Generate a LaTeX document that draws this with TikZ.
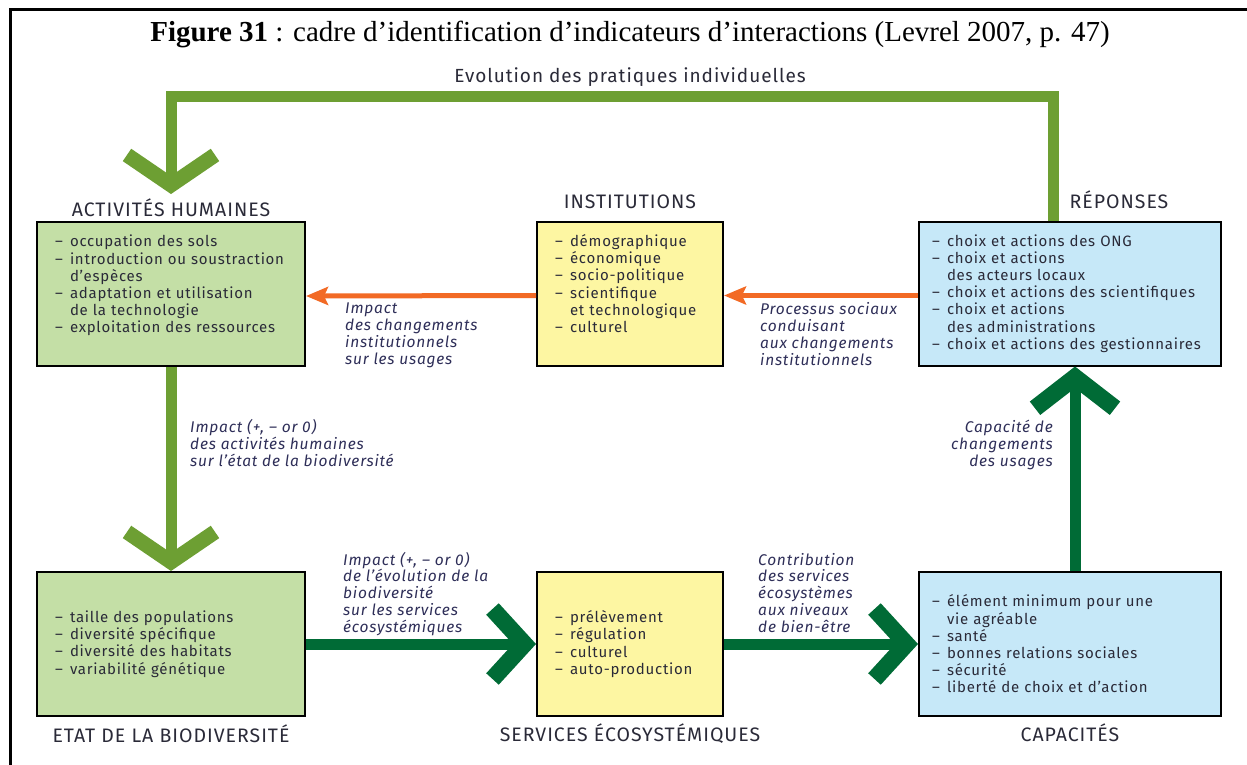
\documentclass[tikz,border=0pt]{standalone}
\usepackage{fontspec}
\setmainfont{Liberation Serif}
\setsansfont{Fira Sans}[LetterSpace=5]
\usepackage{xcolor}
\usepackage{tikz}
\usetikzlibrary{positioning,arrows.meta}
\definecolor{textmain}{HTML}{2A2A38}
\definecolor{textlabel}{HTML}{2E2E58}
\definecolor{fillgreen}{HTML}{C4DFA6}
\definecolor{fillyellow}{HTML}{FDF6A2}
\definecolor{fillblue}{HTML}{C6E8F8}
\definecolor{arrowolive}{HTML}{6D9F33}
\definecolor{arrowgreen}{HTML}{006B36}
\definecolor{arroworange}{HTML}{F26A25}
\newcommand{\li}{\makebox[15pt][l]{--}}
\newcommand{\lc}{\hspace*{15pt}}
\newcommand{\lift}{\rule[-20pt]{0pt}{20pt}}

\begin{document}
\begin{tikzpicture}[x=1pt, y=-1pt,
  box/.style={draw=black, line width=2pt, align=left, text=textmain, inner ysep=0pt, minimum height=144pt, font=\sffamily\fontsize{15}{17.2}\selectfont},
  widebox/.style={minimum width=268pt, text width=232pt, inner xsep=18pt},
  midbox/.style={minimum width=186pt, text width=150pt, inner xsep=18pt},
  bigbox/.style={minimum width=302pt, text width=276pt, inner xsep=13pt},
  boxtitle/.style={font=\sffamily\fontsize{19.5}{21}\selectfont, text=textmain, inner sep=0pt, anchor=base},
  flowlabel/.style={font=\sffamily\itshape\fontsize{15.5}{16.7}\selectfont, text=textlabel, inner sep=0pt, align=left},
  oliveflow/.style={arrowolive, line width=11pt, line join=miter, -{Straight Barb[sharp, length=30pt, width=88pt, line width=15pt]}},
  darkflow/.style={arrowgreen, line width=11pt, -{Straight Barb[sharp, length=32pt, width=70pt, line width=17pt]}},
  darkflowup/.style={darkflow, -{Straight Barb[sharp, length=31pt, width=80pt, line width=17pt]}},
  orangeflow/.style={arroworange, line width=5pt, -{Stealth[length=22pt, width=18pt, inset=4pt]}},
]
\useasboundingbox (0,0) rectangle (1247,765);

% Frame and caption
\draw[line width=2.7pt] (10.5,765) -- (10.5,9.3) -- (1247,9.3);
\node[font=\fontsize{29}{31}\selectfont, anchor=base] (caption) at (630,42) {\textbf{Figure 31} : cadre d'identification d'indicateurs d'interactions (Levrel 2007, p. 47)};

% Boxes
\node[box, widebox, fill=fillgreen] (act) at (171,294) {\li occupation des sols\\ \li introduction ou soustraction\\ \lc d'espèces\\ \li adaptation et utilisation\\ \lc de la technologie\\ \li exploitation des ressources\lift};
\node[box, midbox, fill=fillyellow] (inst) at (630,293.5) {\li démographique\\ \li économique\\ \li socio-politique\\ \li scientifique\\ \lc et technologique\\ \li culturel\lift};
\node[box, bigbox, fill=fillblue] (rep) at (1070,293.5) {\li choix et actions des ONG\\ \li choix et actions\\ \lc des acteurs locaux\\ \li choix et actions des scientifiques\\ \li choix et actions\\ \lc des administrations\\ \li choix et actions des gestionnaires};
\node[box, widebox, fill=fillgreen] (etat) at (171,644) {\li taille des populations\\ \li diversité spécifique\\ \li diversité des habitats\\ \li variabilité génétique};
\node[box, midbox, fill=fillyellow] (serv) at (630,644) {\li prélèvement\\ \li régulation\\ \li culturel\\ \li auto-production};
\node[box, bigbox, fill=fillblue] (capa) at (1070,644) {\li élément minimum pour une\\ \lc vie agréable\\ \li santé\\ \li bonnes relations sociales\\ \li sécurité\\ \li liberté de choix et d'action};

% Box titles
\node[boxtitle] (acttitle) at ([yshift=5pt]act.north) {ACTIVITÉS HUMAINES};
\node[boxtitle] (insttitle) at ([yshift=12pt]inst.north) {INSTITUTIONS};
\node[boxtitle] (reptitle) at ([xshift=49pt, yshift=12pt]rep.north) {RÉPONSES};
\node[boxtitle] (etattitle) at ([yshift=-25pt]etat.south) {ETAT DE LA BIODIVERSITÉ};
\node[boxtitle] (servtitle) at ([yshift=-24pt]serv.south) {SERVICES ÉCOSYSTÉMIQUES};
\node[boxtitle] (capatitle) at ([yshift=-24pt]capa.south) {CAPACITÉS};

% Arrows
\draw[oliveflow] ([xshift=-17pt]rep.north) -- ++(0,-124) -| ([yshift=4pt]acttitle.north);
\draw[oliveflow] (act.south) -- (etat.north);
\draw[darkflow] (etat.east) -- (serv.west);
\draw[darkflow] (serv.east) -- (capa.west);
\draw[darkflowup] ([xshift=5pt]capa.north) -- ([xshift=5pt]rep.south);
\draw[orangeflow] ([yshift=-2pt]rep.west) -- ([yshift=-2pt]inst.east);
\draw[orangeflow] ([yshift=-2pt]inst.west) -- ([yshift=-2pt]act.east);

% Arrow labels (base = last line)
\node[font=\sffamily\fontsize{19}{21}\selectfont, text=textmain, anchor=base] (evol) at (630,83) {Evolution des pratiques individuelles};
\node[flowlabel, anchor=base west] (chglabel) at (345,364) {Impact\\des changements\\institutionnels\\sur les usages};
\node[flowlabel, anchor=base west] (proclabel) at (760,365) {Processus sociaux\\conduisant\\aux changements\\institutionnels};
\node[flowlabel, anchor=base west] (humlabel) at (190,466) {Impact (+, -- or 0)\\des activités humaines\\sur l'état de la biodiversité};
\node[flowlabel, anchor=base west] (biolabel) at (343,632) {Impact (+, -- or 0)\\de l'évolution de la\\biodiversité\\sur les services\\écosystémiques};
\node[flowlabel, anchor=base west] (contlabel) at (758,632) {Contribution\\des services\\écosystèmes\\aux niveaux\\de bien-être};
\node[flowlabel, align=right, anchor=base east] (capalabel) at (1053,466) {Capacité de\\changements\\des usages};

\end{tikzpicture}
\end{document}
